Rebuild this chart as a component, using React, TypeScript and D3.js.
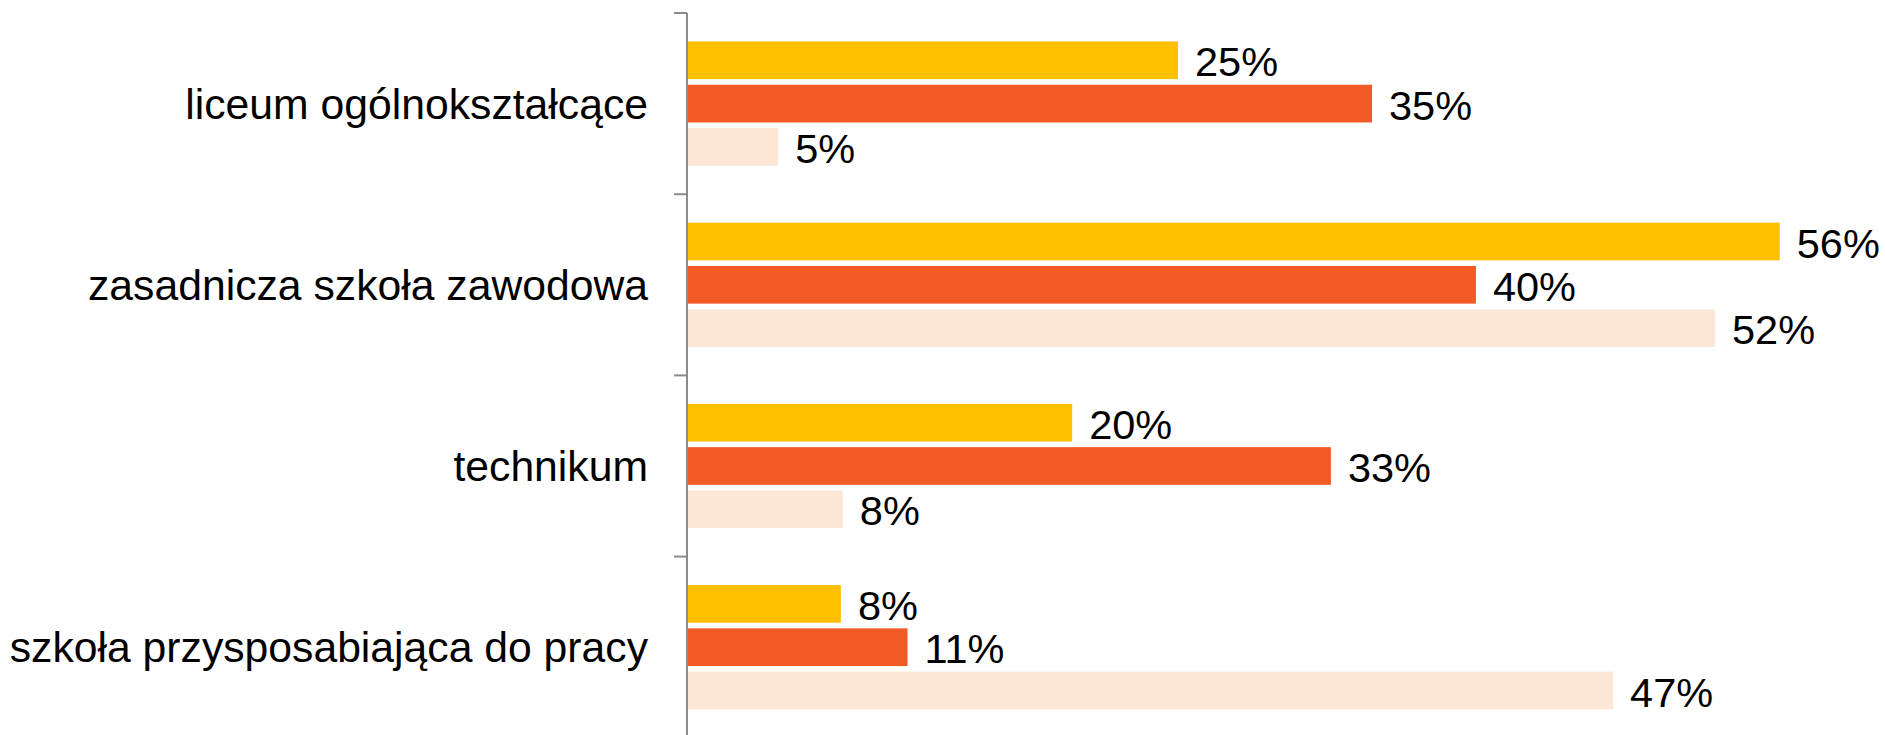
import * as d3 from "d3";
import { useRef, useEffect } from "react";

const categories = [
  "liceum ogólnokształcące",
  "zasadnicza szkoła zawodowa",
  "technikum",
  "szkoła przysposabiająca do pracy",
];
const seriesNames = ["s1", "s2", "s3"];
const series1 = [25.0, 55.7, 19.6, 7.8];
const series2 = [34.9, 40.2, 32.8, 11.2];
const series3 = [4.6, 52.4, 7.9, 47.2];
const colors = ["#FFC000", "#F15A25", "#FDE6D6"];

const App = () => {
  const svgref = useRef<SVGSVGElement>(null);

  useEffect(() => {
    const w = 1885;
    const h = 735;
    const svg = d3.select(svgref.current);
    svg.selectAll("*").remove();

    const axisX = 687;
    const top = 13;
    const band = 181.2;

    const y = d3
      .scaleBand()
      .domain(categories)
      .range([top, top + band * categories.length]);
    const ySub = d3
      .scaleBand()
      .domain(seriesNames)
      .range([0, y.bandwidth()])
      .paddingInner(0.13)
      .paddingOuter(0.657);
    const x = d3.scaleLinear().domain([0, 60]).range([axisX + 1, axisX + 1 + 1176]);

    const values = [series1, series2, series3];
    const fmt = d3.format(".0f");

    const rows = categories.flatMap((c, i) =>
      seriesNames.map((s, j) => ({ c, s, j, v: values[j][i] }))
    );

    svg
      .selectAll("rect.bar")
      .data(rows)
      .join("rect")
      .attr("class", "bar")
      .attr("x", x(0))
      .attr("y", (d) => y(d.c)! + ySub(d.s)!)
      .attr("width", (d) => x(d.v) - x(0))
      .attr("height", ySub.bandwidth())
      .attr("fill", (d) => colors[d.j]);

    svg
      .selectAll("text.val")
      .data(rows)
      .join("text")
      .attr("class", "val")
      .attr("x", (d) => x(d.v) + 17)
      .attr("y", (d) => y(d.c)! + ySub(d.s)! + ySub.bandwidth() / 2)
      .attr("dy", "0.39em")
      .style("font-family", "'Liberation Sans', Arial, sans-serif")
      .style("font-size", "41.5px")
      .attr("fill", "#000")
      .text((d) => fmt(d.v) + "%");

    // axis
    svg
      .append("line")
      .attr("x1", axisX)
      .attr("x2", axisX)
      .attr("y1", top)
      .attr("y2", h)
      .attr("stroke", "#8c8c8c")
      .attr("stroke-width", 2);

    const tickYs = categories.map((c) => y(c)!).concat([y.range()[1]]);
    svg
      .selectAll("line.tick")
      .data(tickYs)
      .join("line")
      .attr("class", "tick")
      .attr("x1", axisX - 13)
      .attr("x2", axisX)
      .attr("y1", (d) => d)
      .attr("y2", (d) => d)
      .attr("stroke", "#8c8c8c")
      .attr("stroke-width", 2);

    svg
      .selectAll("text.cat")
      .data(categories)
      .join("text")
      .attr("class", "cat")
      .attr("x", 648)
      .attr("y", (d) => y(d)! + y.bandwidth() / 2)
      .attr("dy", "0.35em")
      .attr("text-anchor", "end")
      .style("font-family", "'Liberation Sans', Arial, sans-serif")
      .style("font-size", "42.7px")
      .attr("fill", "#000")
      .text((d) => d);

    svg.attr("width", w).attr("height", h);
  }, []);

  return (
    <svg
      ref={svgref}
      width={1885}
      height={735}
      style={{ position: "absolute", left: 0, top: 0, background: "#fff" }}
    ></svg>
  );
};

export default App;
